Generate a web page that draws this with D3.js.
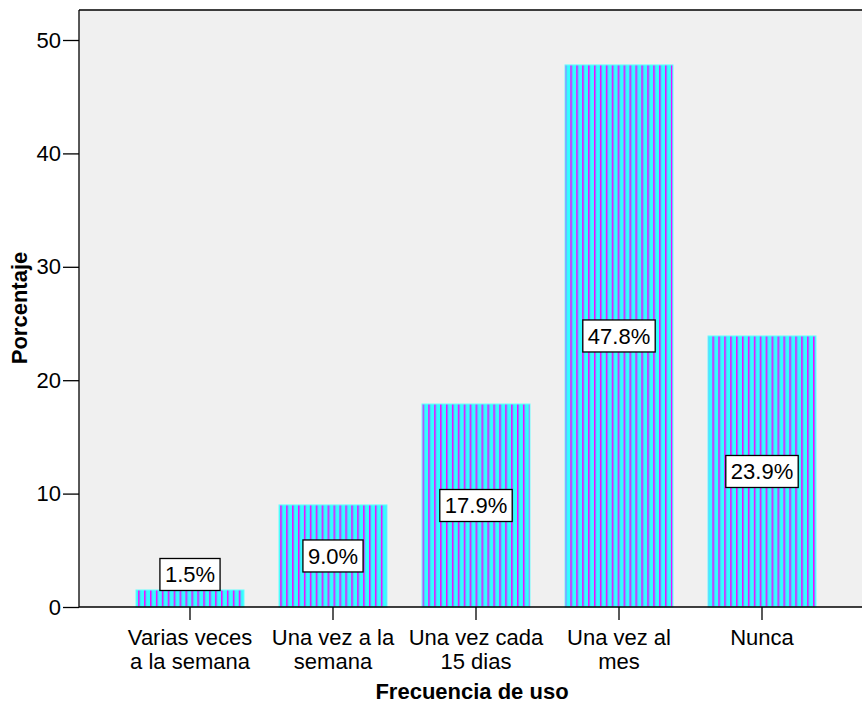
<!DOCTYPE html>
<html>
<head>
<meta charset="utf-8">
<script src="https://cdn.jsdelivr.net/npm/d3@7"></script>
<style>
  html, body { margin: 0; padding: 0; background: #ffffff; }
  svg { display: block; font-family: "Liberation Sans", Arial, sans-serif; }
</style>
</head>
<body>
<svg id="chart" width="862" height="706"></svg>
<script>
// Frecuencia de uso — porcentaje por categoría
const categories = [
  ["Varias veces", "a la semana"],
  ["Una vez a la", "semana"],
  ["Una vez cada", "15 dias"],
  ["Una vez al", "mes"],
  ["Nunca"]
];
const percentages = [1.5, 9.0, 17.9, 47.8, 23.9];
const yTicks = [0, 10, 20, 30, 40, 50];

const FONT = "Liberation Sans, Arial, sans-serif";
const svg = d3.select("#chart");
const plot = { left: 79, right: 862, top: 10, bottom: 607 };

const keys = categories.map((c, i) => i);
const x = d3.scaleBand()
  .domain(keys)
  .range([118.5, 833.5])
  .paddingInner(0.245)
  .paddingOuter(0.1225);

const y = d3.scaleLinear()
  .domain([0, 50])
  .range([plot.bottom, plot.bottom - 50 * 11.34]);

// striped fill for the bars
const defs = svg.append("defs");
const pat = defs.append("pattern")
  .attr("id", "stripes")
  .attr("patternUnits", "userSpaceOnUse")
  .attr("width", 5.92)
  .attr("height", 10);
pat.append("rect").attr("width", 5.92).attr("height", 10).attr("fill", "#33ffff");
pat.append("rect").attr("x", 2).attr("width", 1.2).attr("height", 10).attr("fill", "#ff00ff");
pat.append("rect").attr("x", 3.2).attr("width", 0.9).attr("height", 10).attr("fill", "#a060ff");

// plot background
svg.append("rect")
  .attr("x", plot.left).attr("y", plot.top)
  .attr("width", plot.right - plot.left).attr("height", plot.bottom - plot.top)
  .attr("fill", "#f0f0f0");

// top frame line
svg.append("line")
  .attr("x1", plot.left).attr("x2", plot.right)
  .attr("y1", plot.top).attr("y2", plot.top)
  .attr("stroke", "#000").attr("stroke-width", 1.3);

// bars
svg.append("g").selectAll("rect")
  .data(percentages)
  .join("rect")
  .attr("x", (d, i) => x(i))
  .attr("y", d => y(d))
  .attr("width", x.bandwidth())
  .attr("height", d => y(0) - y(d))
  .attr("fill", "url(#stripes)")
  .attr("stroke", "#66ffff")
  .attr("stroke-width", 1);

// y axis
const yAxis = d3.axisLeft(y).tickValues(yTicks).tickSize(16).tickPadding(2);
const gy = svg.append("g")
  .attr("transform", `translate(${plot.left},0)`)
  .call(yAxis);
gy.select(".domain").attr("stroke", "#000").attr("stroke-width", 1.3)
  .attr("d", `M0,${plot.top}V${plot.bottom}`);
gy.selectAll(".tick line").attr("stroke", "#000").attr("stroke-width", 1.3);
gy.selectAll(".tick text")
  .attr("font-size", 22).attr("fill", "#000")
  .attr("font-family", FONT);

// x axis
const xAxis = d3.axisBottom(x).tickSize(13).tickFormat(() => "");
const gx = svg.append("g")
  .attr("transform", `translate(0,${plot.bottom})`)
  .call(xAxis);
gx.select(".domain").attr("stroke", "#000").attr("stroke-width", 1.3)
  .attr("d", `M${plot.left},0H${plot.right}`);
gx.selectAll(".tick line").attr("stroke", "#000").attr("stroke-width", 1.3);

// category labels (two lines)
const catG = svg.append("g");
categories.forEach((lines, i) => {
  const cx = x(i) + x.bandwidth() / 2;
  const t = catG.append("text")
    .attr("x", cx)
    .attr("y", 645)
    .attr("text-anchor", "middle")
    .attr("font-size", 22)
    .attr("font-family", FONT)
    .attr("fill", "#000");
  lines.forEach((ln, j) => {
    t.append("tspan")
      .attr("x", cx)
      .attr("dy", j === 0 ? 0 : 23.5)
      .text(ln);
  });
});

// value labels in boxes
const boxH = 32;
const lab = svg.append("g").selectAll("g")
  .data(percentages)
  .join("g")
  .attr("transform", (d, i) => {
    const cx = x(i) + x.bandwidth() / 2;
    let cy = (y(d) + y(0)) / 2;
    if (y(0) - y(d) < boxH + 4) cy = y(d) - boxH / 2 + 0.5;
    return `translate(${cx},${cy})`;
  });
const boxes = lab.append("rect")
  .attr("y", -boxH / 2)
  .attr("height", boxH)
  .attr("fill", "#fff").attr("stroke", "#000").attr("stroke-width", 1.3);
const labTexts = lab.append("text")
  .attr("text-anchor", "middle")
  .attr("dy", "0.36em")
  .attr("font-size", 22)
  .attr("font-family", FONT)
  .attr("fill", "#000")
  .text(d => d.toFixed(1) + "%");
labTexts.each(function (d, i) {
  const w = this.getComputedTextLength() + 10;
  d3.select(boxes.nodes()[i]).attr("x", -w / 2).attr("width", w);
});

// axis titles
svg.append("text")
  .attr("x", 472).attr("y", 699)
  .attr("text-anchor", "middle")
  .attr("font-size", 22).attr("font-weight", "bold")
  .attr("font-family", FONT)
  .text("Frecuencia de uso");

svg.append("text")
  .attr("transform", "translate(27,308) rotate(-90)")
  .attr("text-anchor", "middle")
  .attr("font-size", 22).attr("font-weight", "bold")
  .attr("font-family", FONT)
  .text("Porcentaje");
</script>
</body>
</html>
